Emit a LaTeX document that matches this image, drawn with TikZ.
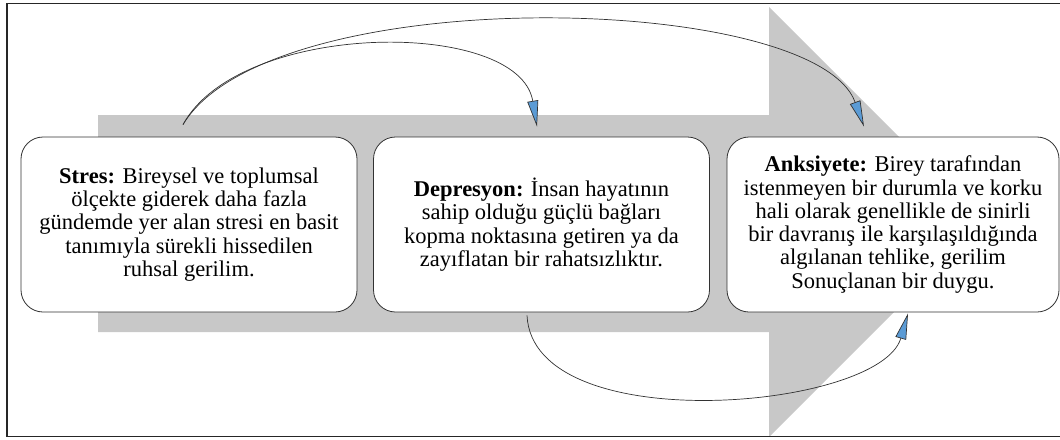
\documentclass[tikz,border=0pt]{standalone}
\usepackage{fontspec}
\IfFontExistsTF{LiberationSerif-Regular.ttf}
  {\setmainfont{LiberationSerif-Regular.ttf}[BoldFont=LiberationSerif-Bold.ttf]}
  {\setmainfont{Liberation Serif}}
\usetikzlibrary{arrows.meta}
\definecolor{bandgray}{RGB}{200,200,200}
\definecolor{tipblue}{RGB}{91,155,213}
\definecolor{lineclr}{RGB}{50,50,50}
\begin{document}
\begin{tikzpicture}[x=1pt,y=-1pt,
  box/.style={draw=lineclr, line width=0.8pt, fill=white, rounded corners=22pt,
    minimum width=336pt, minimum height=175pt, align=center, inner sep=0pt,
    font=\rmfamily\fontsize{22.5}{23.3}\selectfont},
  link/.style={draw=lineclr, line width=0.7pt,
    -{Triangle[length=26pt,width=11pt,fill=tipblue]}},
  frame/.style={line width=1.6pt, draw=black!85}]
\useasboundingbox (0,0) rectangle (1060,439);
% big grey arrow
\fill[bandgray] (98,115) -- (769,115) -- (769,7) -- (984,222) -- (769,437)
  -- (769,332) -- (98,332) -- cycle;
% frame (open on the right)
\draw[frame] (1065,3.5) -- (7,3.5) -- (7,436.5) -- (1065,436.5);
% boxes
\node[box] (b1) at (189,224.5) {\textbf{Stres:} Bireysel ve toplumsal\\ölçekte giderek daha fazla\\gündemde yer alan stresi en basit\\tanımıyla sürekli hissedilen\\ruhsal gerilim.};
\node[box] (b2) at (541.5,224.5) {\textbf{Depresyon:} İnsan hayatının\\sahip olduğu güçlü bağları\\kopma noktasına getiren ya da\\zayıflatan bir rahatsızlıktır.};
\node[box, minimum width=332pt] (b3) at (893,224.5) {\textbf{Anksiyete:} Birey tarafından\\istenmeyen bir durumla ve korku\\hali olarak genellikle de sinirli\\bir davranış ile karşılaşıldığında\\algılanan tehlike, gerilim\\Sonuçlanan bir duygu.};
% connector ends
\coordinate (s1) at ([xshift=-6pt,yshift=12pt]b1.north);
\coordinate (t1) at ([xshift=-4.5pt,yshift=10pt]b2.north);
\coordinate (t2) at ([xshift=-29pt,yshift=10pt]b3.north);
\coordinate (s3) at ([xshift=-14.5pt,yshift=-3pt]b2.south);
\coordinate (t3) at ([xshift=15pt,yshift=-1pt]b3.south);
% connectors
\draw[link] (s1) .. controls (240,20) and (519,18) .. (t1);
\draw[link] (s1) .. controls (270,-20) and (815,-8) .. (t2);
\draw[link] (s3) .. controls (533,440) and (880,410) .. (t3);
\end{tikzpicture}
\end{document}
